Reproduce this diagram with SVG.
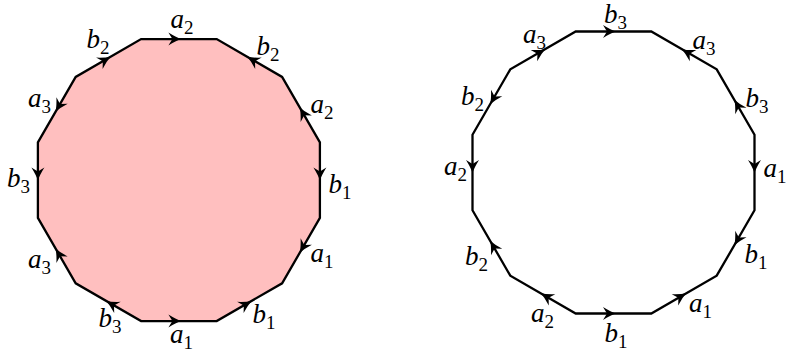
<svg xmlns="http://www.w3.org/2000/svg" xmlns:xlink="http://www.w3.org/1999/xlink" width="788" height="351" viewBox="0 0 788 351">
<style>
.poly{stroke:#000;stroke-width:2.3;stroke-linejoin:miter}
.lbl{font-family:"Liberation Serif","Times New Roman",serif;font-style:italic;font-size:27px;fill:#000}
.sub{font-size:19px;font-style:normal}
</style>
<defs>
<path id="ah" d="M0,0 Q-5.5,-1.8 -13,-6.5 L-9,0 L-13,6.5 Q-5.5,1.8 0,0 Z" fill="#000"/>
</defs>
<g id="left-polygon">
<polygon class="poly" fill="#ffbfbf" points="141.1,39.1 216.7,39.1 282.1,76.9 319.9,142.3 319.9,217.9 282.1,283.3 216.7,321.1 141.1,321.1 75.7,283.3 37.9,217.9 37.9,142.3 75.7,76.9"/>
<g id="left-arrows">
<use xlink:href="#ah" href="#ah" transform="translate(181.4,39.1) rotate(0)"/>
<use xlink:href="#ah" href="#ah" transform="translate(247.2,56.75) rotate(210)"/>
<use xlink:href="#ah" href="#ah" transform="translate(299.75,107.4) rotate(240)"/>
<use xlink:href="#ah" href="#ah" transform="translate(319.9,180.6) rotate(90)"/>
<use xlink:href="#ah" href="#ah" transform="translate(299.75,252.8) rotate(120)"/>
<use xlink:href="#ah" href="#ah" transform="translate(251.6,300.95) rotate(330)"/>
<use xlink:href="#ah" href="#ah" transform="translate(181.4,321.1) rotate(0)"/>
<use xlink:href="#ah" href="#ah" transform="translate(106.2,300.95) rotate(210)"/>
<use xlink:href="#ah" href="#ah" transform="translate(55.55,248.4) rotate(240)"/>
<use xlink:href="#ah" href="#ah" transform="translate(37.9,180.6) rotate(90)"/>
<use xlink:href="#ah" href="#ah" transform="translate(55.55,111.8) rotate(120)"/>
<use xlink:href="#ah" href="#ah" transform="translate(110.6,56.75) rotate(330)"/>
</g>
<g id="left-labels" class="lbl" text-anchor="middle">
<text x="182" y="28">a<tspan class="sub" dy="5.5">2</tspan></text>
<text x="268" y="55">b<tspan class="sub" dy="5.5">2</tspan></text>
<text x="322" y="113">a<tspan class="sub" dy="5.5">2</tspan></text>
<text x="340" y="193">b<tspan class="sub" dy="5.5">1</tspan></text>
<text x="322" y="262">a<tspan class="sub" dy="5.5">1</tspan></text>
<text x="264" y="323">b<tspan class="sub" dy="5.5">1</tspan></text>
<text x="181.5" y="343">a<tspan class="sub" dy="5.5">1</tspan></text>
<text x="110" y="327">b<tspan class="sub" dy="5.5">3</tspan></text>
<text x="39.5" y="268">a<tspan class="sub" dy="5.5">3</tspan></text>
<text x="18.5" y="187">b<tspan class="sub" dy="5.5">3</tspan></text>
<text x="39.5" y="107">a<tspan class="sub" dy="5.5">3</tspan></text>
<text x="98" y="48">b<tspan class="sub" dy="5.5">2</tspan></text>
</g>
</g>
<g id="right-polygon">
<polygon class="poly" fill="none" points="575.7,31.5 651.3,31.5 716.7,69.3 754.5,134.7 754.5,210.3 716.7,275.7 651.3,313.5 575.7,313.5 510.3,275.7 472.5,210.3 472.5,134.7 510.3,69.3"/>
<g id="right-arrows">
<use xlink:href="#ah" href="#ah" transform="translate(616,31.5) rotate(0)"/>
<use xlink:href="#ah" href="#ah" transform="translate(681.8,49.15) rotate(210)"/>
<use xlink:href="#ah" href="#ah" transform="translate(734.35,99.8) rotate(240)"/>
<use xlink:href="#ah" href="#ah" transform="translate(754.5,173) rotate(90)"/>
<use xlink:href="#ah" href="#ah" transform="translate(734.35,245.2) rotate(120)"/>
<use xlink:href="#ah" href="#ah" transform="translate(686.2,293.35) rotate(330)"/>
<use xlink:href="#ah" href="#ah" transform="translate(616,313.5) rotate(0)"/>
<use xlink:href="#ah" href="#ah" transform="translate(540.8,293.35) rotate(210)"/>
<use xlink:href="#ah" href="#ah" transform="translate(490.15,240.8) rotate(240)"/>
<use xlink:href="#ah" href="#ah" transform="translate(472.5,173) rotate(90)"/>
<use xlink:href="#ah" href="#ah" transform="translate(490.15,104.2) rotate(120)"/>
<use xlink:href="#ah" href="#ah" transform="translate(545.2,49.15) rotate(330)"/>
</g>
<g id="right-labels" class="lbl" text-anchor="middle">
<text x="615.5" y="23">b<tspan class="sub" dy="5.5">3</tspan></text>
<text x="704" y="49">a<tspan class="sub" dy="5.5">3</tspan></text>
<text x="757" y="107">b<tspan class="sub" dy="5.5">3</tspan></text>
<text x="775" y="177">a<tspan class="sub" dy="5.5">1</tspan></text>
<text x="756" y="263">b<tspan class="sub" dy="5.5">1</tspan></text>
<text x="700.5" y="312">a<tspan class="sub" dy="5.5">1</tspan></text>
<text x="616" y="342">b<tspan class="sub" dy="5.5">1</tspan></text>
<text x="542.5" y="322">a<tspan class="sub" dy="5.5">2</tspan></text>
<text x="476.5" y="265">b<tspan class="sub" dy="5.5">2</tspan></text>
<text x="455.5" y="175">a<tspan class="sub" dy="5.5">2</tspan></text>
<text x="472.5" y="105">b<tspan class="sub" dy="5.5">2</tspan></text>
<text x="534.5" y="43">a<tspan class="sub" dy="5.5">3</tspan></text>
</g>
</g>
</svg>
